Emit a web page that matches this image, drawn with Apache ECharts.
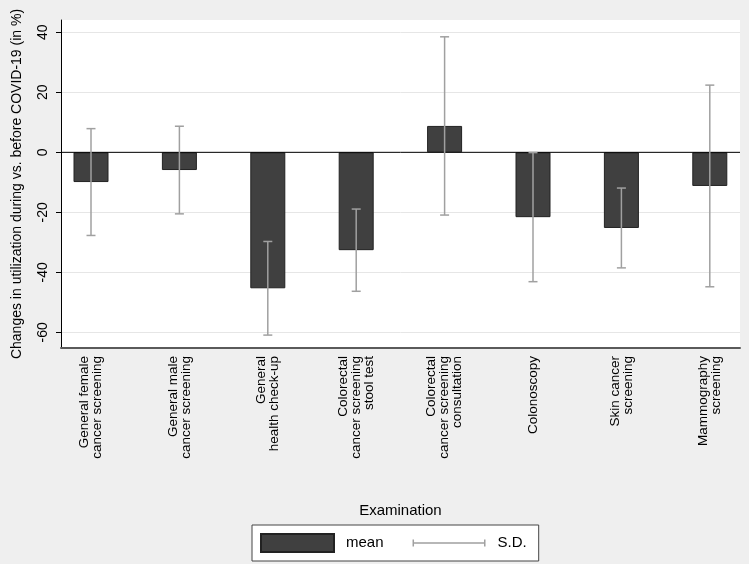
<!DOCTYPE html>
<html>
<head>
<meta charset="utf-8">
<script src="https://cdn.jsdelivr.net/npm/echarts@6/dist/echarts.min.js"></script>
<style>
html,body{margin:0;padding:0;background:#efefef;}
#chart{width:749px;height:564px;}
</style>
</head>
<body>
<div id="chart"></div>
<script>
const categories = [
  "General female\ncancer screening",
  "General male\ncancer screening",
  "General\nhealth check-up",
  "Colorectal\ncancer screening\nstool test",
  "Colorectal\ncancer screening\nconsultation",
  "Colonoscopy",
  "Skin cancer\nscreening",
  "Mammography\nscreening"
];
const means = [-9.9, -5.9, -45.3, -32.6, 8.8, -21.6, -25.2, -11.2];
const sds = [17.8, 14.6, 15.6, 13.7, 29.7, 21.5, 13.3, 33.6];
const yTicks = [-60, -40, -20, 0, 20, 40];
const yMin = -65.2, yMax = 44.1;

const FONT = "'Liberation Sans', Arial, sans-serif";
const sdData = means.map((m, i) => [i, m - sds[i], m + sds[i]]);

const chart = echarts.init(document.getElementById('chart'), null, {renderer: 'canvas'});
chart.setOption({
  animation: false,
  backgroundColor: '#efefef',
  textStyle: {fontFamily: FONT},
  grid: [
    {left: 61, right: 9, top: 20, bottom: 216, show: true, backgroundColor: '#ffffff', borderWidth: 0},
    {left: 91, right: 39.2, top: 20, bottom: 216}
  ],
  xAxis: [
    {type: 'value', gridIndex: 0, min: 0, max: 1,
     axisLine: {show: true, onZero: false, lineStyle: {color: '#5a5a5a', width: 2}},
     axisTick: {show: false}, axisLabel: {show: false}, splitLine: {show: false}},
    {type: 'category', gridIndex: 1, data: categories, boundaryGap: false,
     axisLine: {show: false, onZero: false}, axisTick: {show: false},
     axisLabel: {rotate: 90, margin: 8, fontSize: 13.5, lineHeight: 13, color: '#000', fontFamily: FONT, interval: 0},
     name: 'Examination', nameLocation: 'middle', nameGap: 155,
     nameTextStyle: {fontSize: 15, color: '#000', fontFamily: FONT}}
  ],
  yAxis: [
    {type: 'value', gridIndex: 0, min: yMin, max: yMax,
     axisLine: {show: true, lineStyle: {color: '#000', width: 1}},
     axisTick: {show: true, length: 5, customValues: yTicks, lineStyle: {color: '#000'}},
     axisLabel: {customValues: yTicks, rotate: 90, margin: 11, fontSize: 14, color: '#000', fontFamily: FONT},
     splitLine: {show: true, lineStyle: {color: '#e6e6e6', width: 1}},
     name: 'Changes in utilization during vs. before COVID-19 (in %)',
     nameLocation: 'middle', nameGap: 37,
     nameTextStyle: {fontSize: 14, color: '#000', fontFamily: FONT}},
    {type: 'value', gridIndex: 1, min: yMin, max: yMax, show: false}
  ],
  legend: {
    left: 252, top: 525, orient: 'horizontal',
    padding: [8, 12, 8, 8], itemGap: 29, itemWidth: 73, itemHeight: 18,
    backgroundColor: '#ffffff', borderColor: '#444', borderWidth: 1, borderRadius: 0,
    textStyle: {fontSize: 15, color: '#000', fontFamily: FONT, padding: [0, 0, 0, 7]},
    data: [
      {name: 'mean', icon: 'rect'},
      {name: 'S.D.', icon: 'path://M0,0 L0,0 Z M0,5.5 h1.5 v7 h-1.5 Z M71.5,5.5 h1.5 v7 h-1.5 Z M0,8.25 h73 v1.5 h-73 Z M0,18 L0,18 Z',
       itemStyle: {color: '#a0a0a0', borderWidth: 0}}
    ]
  },
  series: [
    {name: 'zero', type: 'line', xAxisIndex: 0, yAxisIndex: 0, data: [[0, 0], [1, 0]],
     symbol: 'none', silent: true, z: 3, lineStyle: {color: '#000', width: 1}},
    {name: 'mean', type: 'bar', xAxisIndex: 1, yAxisIndex: 1, data: means, barWidth: 35, clip: false, z: 2,
     itemStyle: {color: '#404040', borderColor: '#222', borderWidth: 1}},
    {name: 'S.D.', type: 'custom', xAxisIndex: 1, yAxisIndex: 1, data: sdData, clip: false, z: 4,
     encode: {x: 0, y: [1, 2]},
     itemStyle: {color: '#a0a0a0'},
     renderItem: function (params, api) {
       const x = api.value(0);
       const lo = api.coord([x, api.value(1)]);
       const hi = api.coord([x, api.value(2)]);
       const cap = 4.5;
       const style = {stroke: '#a0a0a0', lineWidth: 1.5, fill: null};
       return {type: 'group', children: [
         {type: 'line', shape: {x1: lo[0], y1: lo[1], x2: hi[0], y2: hi[1]}, style: style},
         {type: 'line', shape: {x1: lo[0] - cap, y1: lo[1], x2: lo[0] + cap, y2: lo[1]}, style: style},
         {type: 'line', shape: {x1: hi[0] - cap, y1: hi[1], x2: hi[0] + cap, y2: hi[1]}, style: style}
       ]};
     }}
  ]
});
</script>
</body>
</html>
